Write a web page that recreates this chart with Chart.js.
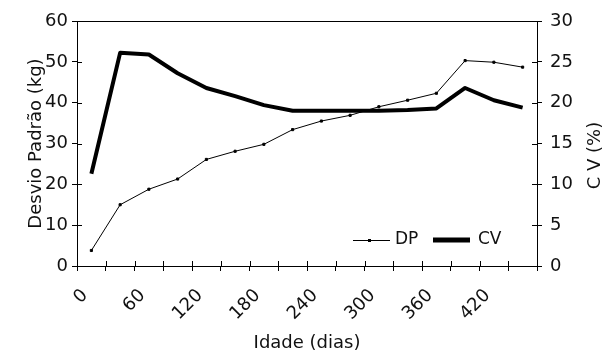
<!DOCTYPE html>
<html>
<head>
<meta charset="utf-8">
<script src="https://cdn.jsdelivr.net/npm/chart.js@4.4.0/dist/chart.umd.min.js"></script>
<style>
  html, body { margin: 0; padding: 0; background: #fff; }
  #wrap { width: 607px; height: 354px; }
</style>
</head>
<body>
<div id="wrap"><canvas id="grafico" width="607" height="354"></canvas></div>
<script>
// idade (dias) de cada pesagem
const idade = [15, 45, 75, 105, 135, 165, 195, 225, 255, 285, 315, 345, 375, 405, 435, 465];
// desvio padrão (kg) - eixo da esquerda
const desvioPadrao = [3.8, 15.0, 18.8, 21.3, 26.1, 28.1, 29.8, 33.4, 35.5, 36.9, 39.0, 40.6, 42.3, 50.3, 49.9, 48.7];
// coeficiente de variação (%) - eixo da direita
const cv = [11.3, 26.1, 25.9, 23.6, 21.8, 20.8, 19.7, 19.0, 19.0, 19.0, 19.0, 19.1, 19.3, 21.8, 20.3, 19.4];
const rotulosX = [0, 60, 120, 180, 240, 300, 360, 420];
const ticksDP = [0, 10, 20, 30, 40, 50, 60];
const ticksCV = [0, 5, 10, 15, 20, 25, 30];

const fonte = "'DejaVu Sans', sans-serif";
const corTexto = "#111";

// bordas, tracinhos internos, legenda e título do eixo direito
const extras = {
  id: "extras",
  afterDraw(chart) {
    const { ctx, chartArea: a, scales } = chart;
    ctx.save();
    ctx.strokeStyle = "#000";
    ctx.lineWidth = 1;
    ctx.beginPath();
    ctx.moveTo(a.left, a.top + 0.5);
    ctx.lineTo(a.right, a.top + 0.5);
    scales.y.ticks.forEach(t => {
      const p = Math.round(scales.y.getPixelForValue(t.value)) + 0.5;
      ctx.moveTo(a.left, p);
      ctx.lineTo(a.left + 5, p);
    });
    scales.y1.ticks.forEach(t => {
      const p = Math.round(scales.y1.getPixelForValue(t.value)) + 0.5;
      ctx.moveTo(a.right - 5, p);
      ctx.lineTo(a.right, p);
    });
    scales.x.ticks.forEach(t => {
      const p = Math.round(scales.x.getPixelForValue(t.value)) + 0.5;
      ctx.moveTo(p, a.bottom - 5);
      ctx.lineTo(p, a.bottom);
    });
    ctx.stroke();

    // legenda dentro da área do gráfico
    const ly = a.bottom - 26;
    const lx = a.right - 184;
    ctx.beginPath();
    ctx.moveTo(lx, ly + 0.5);
    ctx.lineTo(lx + 37, ly + 0.5);
    ctx.stroke();
    ctx.fillStyle = "#000";
    ctx.fillRect(lx + 15, ly - 1, 3, 3);
    ctx.lineWidth = 5;
    ctx.beginPath();
    ctx.moveTo(lx + 80, ly);
    ctx.lineTo(lx + 117, ly);
    ctx.stroke();
    ctx.font = "17px " + fonte;
    ctx.fillStyle = corTexto;
    ctx.textBaseline = "middle";
    ctx.textAlign = "left";
    ctx.fillText("DP", lx + 42, ly);
    ctx.fillText("CV", lx + 125, ly);

    // título do eixo direito, lido de baixo para cima
    ctx.font = "18px " + fonte;
    ctx.translate(chart.width - 12, (a.top + a.bottom) / 2 + 12);
    ctx.rotate(-Math.PI / 2);
    ctx.textAlign = "center";
    ctx.fillText("C V (%)", 0, 0);
    ctx.restore();
  }
};

const ctx = document.getElementById("grafico").getContext("2d");
new Chart(ctx, {
  type: "line",
  data: {
    datasets: [
      {
        label: "DP",
        data: idade.map((d, i) => ({ x: d, y: desvioPadrao[i] })),
        borderColor: "#000",
        backgroundColor: "#000",
        borderWidth: 1,
        pointStyle: "rect",
        pointRadius: 1.5,
        yAxisID: "y"
      },
      {
        label: "CV",
        data: idade.map((d, i) => ({ x: d, y: cv[i] })),
        borderColor: "#000",
        borderWidth: 4,
        borderJoinStyle: "round",
        pointRadius: 0,
        yAxisID: "y1"
      }
    ]
  },
  options: {
    responsive: false,
    animation: false,
    devicePixelRatio: 1,
    layout: { padding: { top: 21, left: 0, right: 0, bottom: 0 } },
    plugins: {
      legend: { display: false },
      tooltip: { enabled: false }
    },
    scales: {
      x: {
        type: "linear",
        min: 0,
        max: 480,
        afterFit: s => { s.height = 88; },
        afterBuildTicks: s => {
          s.ticks = [];
          for (let v = 0; v <= 480; v += 30) s.ticks.push({ value: v });
        },
        border: { display: true, color: "#000", width: 1 },
        grid: { display: true, drawOnChartArea: false, drawTicks: true, tickLength: 5, color: "#000" },
        ticks: {
          autoSkip: false,
          minRotation: 45,
          maxRotation: 45,
          padding: 14,
          labelOffset: 8,
          color: corTexto,
          font: { family: fonte, size: 18 },
          callback: v => rotulosX.includes(v) ? String(v) : ""
        },
        title: {
          display: true,
          text: "Idade (dias)",
          color: corTexto,
          font: { family: fonte, size: 18 },
          padding: { top: 0, bottom: 0 }
        }
      },
      y: {
        position: "left",
        min: 0,
        max: 60,
        afterFit: s => { s.width = 77; },
        afterBuildTicks: s => { s.ticks = ticksDP.map(v => ({ value: v })); },
        border: { display: true, color: "#000", width: 1 },
        grid: { display: true, drawOnChartArea: false, drawTicks: true, tickLength: 5, color: "#000" },
        ticks: { padding: 4, color: corTexto, font: { family: fonte, size: 18 } },
        title: {
          display: true,
          text: "Desvio Padrão (kg)",
          color: corTexto,
          font: { family: fonte, size: 18 },
          padding: { top: 26, bottom: 0 }
        }
      },
      y1: {
        position: "right",
        min: 0,
        max: 30,
        afterFit: s => { s.width = 70; },
        afterBuildTicks: s => { s.ticks = ticksCV.map(v => ({ value: v })); },
        border: { display: true, color: "#000", width: 1 },
        grid: { display: true, drawOnChartArea: false, drawTicks: true, tickLength: 5, color: "#000" },
        ticks: { padding: 8, color: corTexto, font: { family: fonte, size: 18 } }
      }
    }
  },
  plugins: [extras]
});
</script>
</body>
</html>
